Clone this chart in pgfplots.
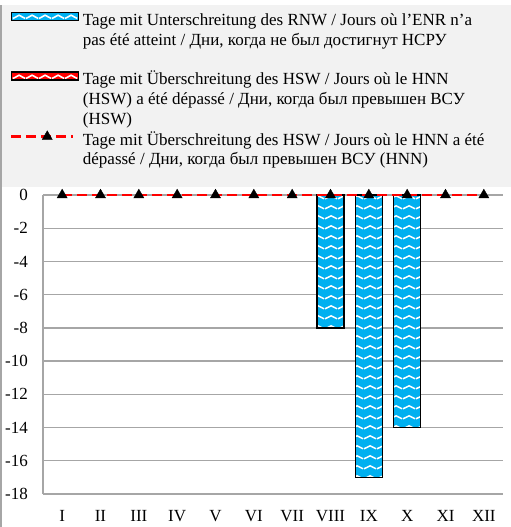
\documentclass[border=0pt]{standalone}
\usepackage{pgfplots}
\pgfplotsset{compat=1.18}
\usepackage{fontspec}
\setmainfont{Liberation Serif}
\usetikzlibrary{patterns.meta}
\definecolor{barblue}{HTML}{00B0F0}
\definecolor{bgray}{HTML}{F2F2F2}
\definecolor{ggray}{HTML}{A6A6A6}
\tikzdeclarepattern{
  name=wave,
  type=uncolored,
  bounding box={(0bp,-5bp) and (13bp,5bp)},
  tile size={(13bp,10bp)},
  code={
    \draw[line width=1.6bp] (0bp,-1.5bp) .. controls (3.25bp,-1.5bp) and (3.25bp,1.8bp) .. (6.5bp,1.8bp) .. controls (9.75bp,1.8bp) and (9.75bp,-1.5bp) .. (13bp,-1.5bp);
  }
}
\pgfplotsset{
  barlegend/.style={legend image code/.code={\draw[##1] (0bp,1.5bp) rectangle (67bp,9.5bp);}},
  linelegend/.style={legend image code/.code={\draw[mark repeat=2, mark phase=2, ##1] plot coordinates {(0bp,5.5bp) (36bp,5.5bp) (62bp,5.5bp)};}},
  blanklegend/.style={legend image code/.code={\path (0bp,5bp) (67bp,5bp);}},
}
\begin{document}
\begin{tikzpicture}
\path[use as bounding box] (0,0) rectangle (511bp,527bp);
\fill[bgray] (0,340bp) rectangle (511bp,522bp);
\draw[ggray, line width=1.5bp] (1.2bp,0) -- (1.2bp,522bp);
\begin{axis}[
  at={(43bp,33bp)}, anchor=south west,
  scale only axis, width=460bp, height=299bp,
  xmin=0.5, xmax=12.5, ymin=-18, ymax=0,
  xtick={1,...,12},
  xticklabels={I,II,III,IV,V,VI,VII,VIII,IX,X,XI,XII},
  ytick={-18,-16,...,0},
  yticklabels={-18,-16,-14,-12,-10,-8,-6,-4,-2,0},
  axis lines=left,
  axis line style={draw=ggray, line width=1.3bp, -},
  ymajorgrids, major grid style={draw=ggray, line width=1.3bp},
  major tick length=0pt, tick style={draw=none},
  ticklabel style={font=\fontsize{17bp}{20bp}\selectfont, inner sep=0pt},
  yticklabel style={anchor=east},
  xticklabel style={anchor=north},
  yticklabel shift=15bp,
  xticklabel shift=16bp,
  clip=false,
  legend cell align=left,
  legend style={
    at={(axis description cs:-0.0717,1.612)}, anchor=north west,
    draw=none, fill=none, inner sep=0pt, outer sep=0pt,
    font=\fontsize{17bp}{20bp}\selectfont,
    nodes={inner sep=0pt, text height=13bp, text depth=6.7bp},
    /tikz/every odd column/.style={column sep=4bp},
    row sep=0pt,
  },
]
\addplot[ybar, bar width=27bp, fill=barblue, draw=black, line width=1.3bp,
  postaction={pattern=wave, pattern color=white}, barlegend]
  coordinates {(8,-8) (9,-17) (10,-14)};
\addlegendentry{Tage mit Unterschreitung des RNW / Jours où l’ENR n’a}
\addlegendimage{blanklegend}
\addlegendentry{pas été atteint / Дни, когда не был достигнут НСРУ}
\addlegendimage{blanklegend}
\addlegendentry{\rule{0pt}{1pt}}
\addlegendimage{fill=red, draw=black, line width=1.3bp,
  postaction={pattern=wave, pattern color=white}, barlegend}
\addlegendentry{Tage mit Überschreitung des HSW / Jours où le HNN}
\addlegendimage{blanklegend}
\addlegendentry{(HSW) a été dépassé / Дни, когда был превышен ВСУ}
\addlegendimage{blanklegend}
\addlegendentry{(HSW)}
\addplot[red, line width=2.5bp, dash pattern=on 10bp off 5bp,
  mark=triangle*, mark size=5.8bp,
  mark options={solid, fill=black, draw=black, line width=0.4bp}, linelegend]
  coordinates {(1,0) (2,0) (3,0) (4,0) (5,0) (6,0) (7,0) (8,0) (9,0) (10,0) (11,0) (12,0)};
\addlegendentry{Tage mit Überschreitung des HSW / Jours où le HNN a été}
\addlegendimage{blanklegend}
\addlegendentry{dépassé / Дни, когда был превышен ВСУ (HNN)}
\end{axis}
\end{tikzpicture}
\end{document}
